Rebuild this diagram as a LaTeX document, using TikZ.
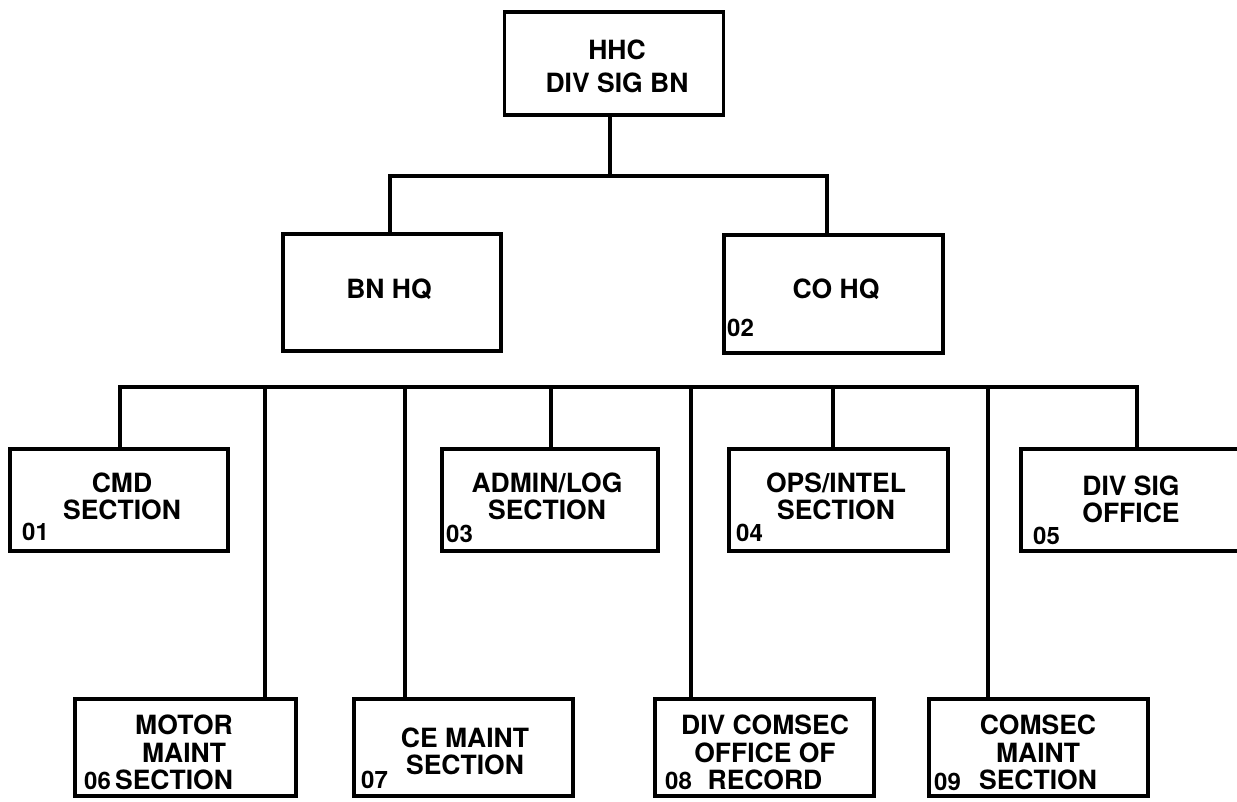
\documentclass[tikz,border=0pt]{standalone}
\usepackage{fontspec}
\setmainfont{TeX Gyre Heros}
\begin{document}
\begin{tikzpicture}[x=1pt,y=-1pt,
  unit/.style={draw, line width=3.6pt, minimum width=219pt, inner sep=0pt, outer sep=0pt},
  link/.style={line width=3.3pt, line join=miter},
  txt/.style={inner sep=0pt, anchor=south, align=center, text depth=0pt,
    font=\bfseries\fontsize{26.5}{27.5}\selectfont},
  num/.style={inner sep=0pt, anchor=south west, text depth=0pt,
    font=\bfseries\fontsize{24}{24}\selectfont}]
\path[use as bounding box, clip] (0,0) rectangle (1237,801);

% top unit
\node[unit, minimum height=103pt] (hhc) at (614,63.5) {};
\node[txt] (hhct) at (617,93) {HHC\\[5.5pt]DIV SIG BN};

% headquarters elements
\node[unit, minimum height=117pt, minimum width=218pt] (bnhq) at (392,292.5) {};
\node[txt] (bnhqt) at (389,299) {BN HQ};
\node[unit, minimum height=118pt] (cohq) at (833.5,294) {};
\node[txt] (cohqt) at (836,299) {CO HQ};
\node[num] (n02) at (727,337) {02};

% sections, upper row
\node[unit, minimum height=102pt, minimum width=218pt] (cmd) at (119,500) {};
\node[txt] (cmdt) at (122,520) {CMD\\SECTION};
\node[num] (n01) at (22,541) {01};
\node[unit, minimum height=102pt, minimum width=216pt] (admin) at (550,500) {};
\node[txt] (admint) at (547,520) {ADMIN/LOG\\SECTION};
\node[num] (n03) at (446,543) {03};
\node[unit, minimum height=102pt] (ops) at (838.5,500) {};
\node[txt] (opst) at (836,520) {OPS/INTEL\\SECTION};
\node[num] (n04) at (736,542) {04};
\node[unit, minimum height=102pt, minimum width=218pt] (divsig) at (1130,500) {};
\node[txt] (divsigt) at (1131,523) {DIV SIG\\OFFICE};
\node[num] (n05) at (1033,545) {05};

% sections, lower row
\node[unit, minimum height=97pt, minimum width=221pt] (motor) at (185.5,747.5) {};
\node[txt] (motort) at (184,790) {MOTOR\\MAINT\\\hbox{SECTION\kern20pt}};
\node[num] (n06) at (84,790) {06};
\node[unit, minimum height=97pt] (ce) at (463.5,747.5) {};
\node[txt] (cet) at (465,775) {CE MAINT\\SECTION};
\node[num] (n07) at (361,789) {07};
\node[unit, minimum height=97pt] (divcomsec) at (764.5,747.5) {};
\node[txt] (divcomsect) at (765,790) {DIV COMSEC\\OFFICE OF\\RECORD};
\node[num] (n08) at (665,790) {08};
\node[unit, minimum height=97pt] (comsec) at (1038.5,747.5) {};
\node[txt] (comsect) at (1038,790) {COMSEC\\MAINT\\SECTION};
\node[num] (n09) at (934,791) {09};

% upper tree
\coordinate (t0) at (610,176);
\coordinate (tL) at (390,176);
\coordinate (tR) at (827,176);
\draw[link] (t0 |- hhc.south) -- (t0);
\draw[link] (tL |- bnhq.north) -- (tL) -- (tR) -- (tR |- cohq.north);

% section bus
\coordinate (bL) at (120,387);
\coordinate (bR) at (1137,387);
\draw[link] (bL |- cmd.north) -- (bL) -- (bR) -- (bR |- divsig.north);
\coordinate (s6) at (265,387);
\coordinate (s7) at (405,387);
\coordinate (s3) at (551,387);
\coordinate (s8) at (691,387);
\coordinate (s4) at (833,387);
\coordinate (s9) at (988,387);
\draw[link] (s6) -- (s6 |- motor.north);
\draw[link] (s7) -- (s7 |- ce.north);
\draw[link] (s3) -- (s3 |- admin.north);
\draw[link] (s8) -- (s8 |- divcomsec.north);
\draw[link] (s4) -- (s4 |- ops.north);
\draw[link] (s9) -- (s9 |- comsec.north);
\end{tikzpicture}
\end{document}
